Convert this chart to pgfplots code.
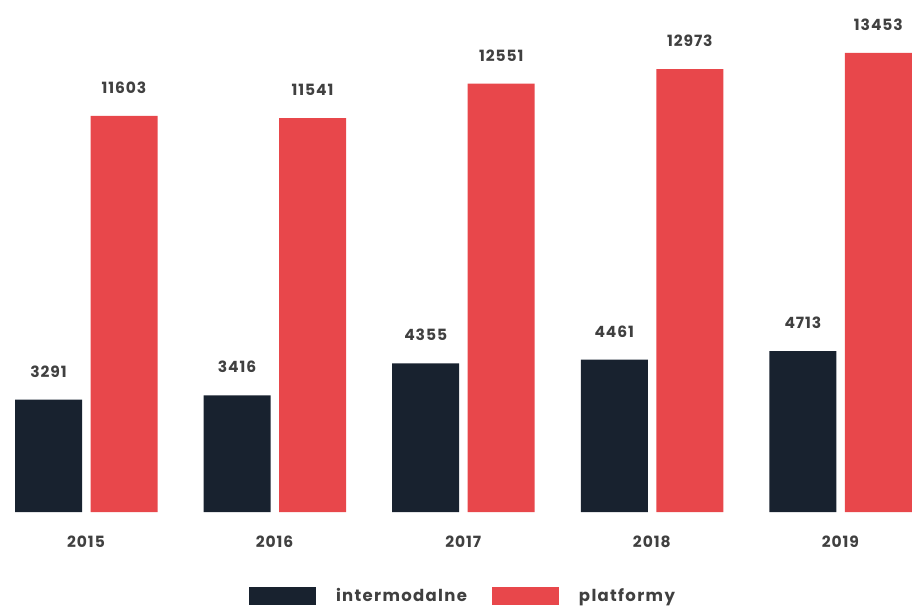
\documentclass[border=0pt]{standalone}
\usepackage{fontspec}
\setmainfont{Poppins}
\usepackage{pgfplots}
\pgfplotsset{compat=1.18}
\definecolor{navy}{HTML}{18222F}
\definecolor{redbar}{HTML}{E8474B}
\definecolor{lbl}{HTML}{404040}
\newcommand{\lblfont}{\fontsize{15.5}{17}\selectfont\bfseries\addfontfeatures{LetterSpace=6}}
\begin{document}
\begin{tikzpicture}
\useasboundingbox (0pt,0pt) rectangle (923pt,608pt);
\begin{axis}[
  at={(0pt,96pt)}, anchor=south west,
  scale only axis, width=923pt, height=512pt,
  xmin=-0.456, xmax=4.438, ymin=0, ymax=15000,
  axis line style={draw=none}, tick style={draw=none},
  ybar, bar width=67pt,
  xtick={0,1,2,3,4}, xticklabels={2015,2016,2017,2018,2019},
  xticklabel style={font=\lblfont, text=lbl, yshift=-16pt},
  ytick=\empty,
  clip=false,
  /pgf/number format/assume math mode=true,
  /pgf/number format/1000 sep={},
  nodes near coords,
  every node near coord/.append style={font=\lblfont, text=lbl, yshift=19pt},
  legend columns=2,
  legend style={at={(axis description cs:0.5016,-0.164)}, anchor=center, draw=none, fill=none,
    font=\fontsize{16.5}{18}\selectfont\bfseries\addfontfeatures{LetterSpace=8}, text=lbl,
    /tikz/every odd column/.append style={column sep=18pt},
    /tikz/every even column/.append style={column sep=23pt}},
  legend image code/.code={\fill[#1] (0pt,-9pt) rectangle (67pt,9pt);},
]
\addplot[fill=navy, draw=none, bar shift=-37.5pt] coordinates {(0,3291) (1,3416) (2,4355) (3,4461) (4,4713)};
\addplot[fill=redbar, draw=none, bar shift=38pt] coordinates {(0,11603) (1,11541) (2,12551) (3,12973) (4,13453)};
\legend{intermodalne,platformy}
\end{axis}
\end{tikzpicture}
\end{document}
